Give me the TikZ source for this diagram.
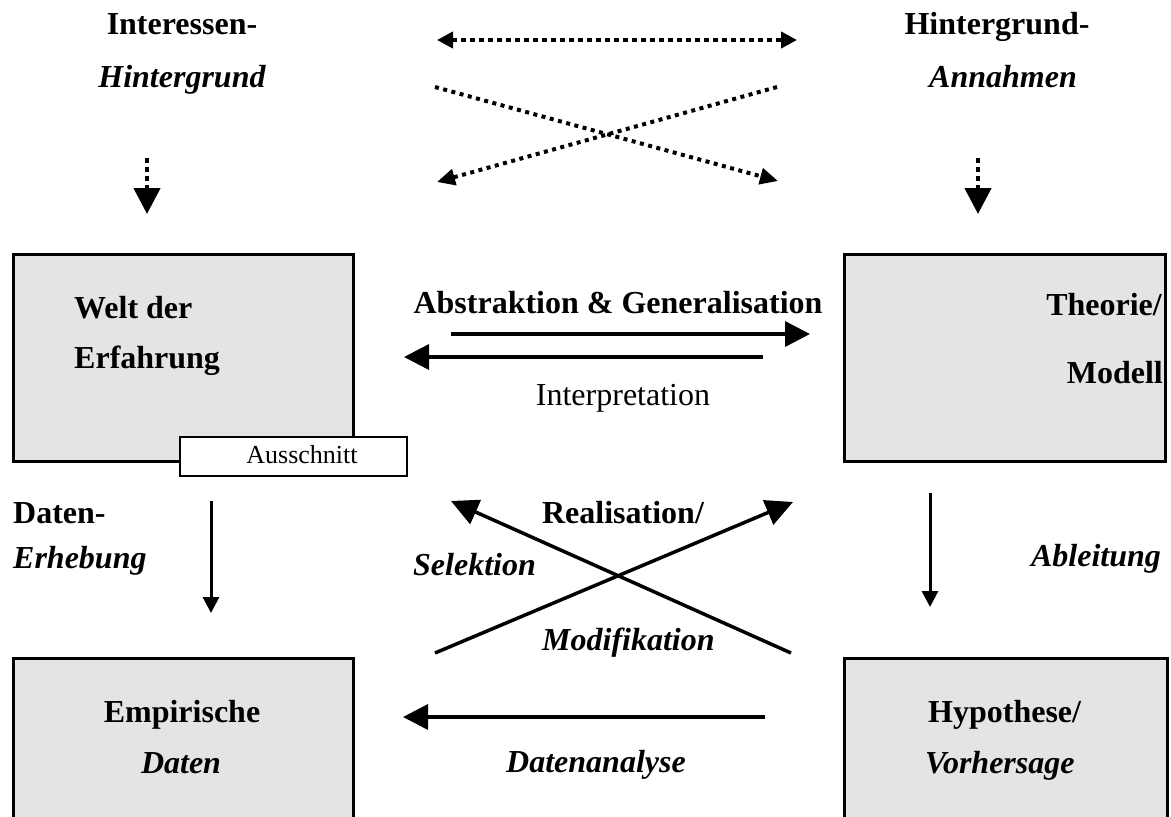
\documentclass[tikz,border=0pt]{standalone}
\usepackage{fontspec}
\setmainfont{Liberation Serif}
\usetikzlibrary{arrows.meta}
\definecolor{boxgray}{RGB}{228,228,228}
\begin{document}
\begin{tikzpicture}[x=1pt,y=-1pt,
  txt/.style={inner sep=0pt,font=\fontsize{32}{38}\selectfont},
  bfx/.style={txt,font=\fontsize{32}{38}\selectfont\bfseries},
  bix/.style={txt,font=\fontsize{32}{38}\selectfont\bfseries\itshape},
  graybox/.style={draw,line width=2.5pt,fill=boxgray,inner sep=0pt,anchor=north west},
  smallbox/.style={draw,line width=1.8pt,fill=white,inner sep=0pt,anchor=north west},
  dotarrow/.style={line width=4pt,dash pattern=on 4pt off 4.5pt,-{Triangle[length=18pt,width=16pt]}},
  dotboth/.style={line width=4.5pt,dash pattern=on 4.5pt off 4.5pt,{Triangle[length=16pt,width=16pt]}-{Triangle[length=16pt,width=16pt]}},
  dotdown/.style={line width=4.5pt,dash pattern=on 4.5pt off 4.5pt,-{Triangle[length=26pt,width=26pt]}},
  bigarrow/.style={line width=3.5pt,-{Triangle[length=25pt,width=25pt]}},
  crossarrow/.style={line width=3.5pt,-{Triangle[length=27pt,width=26pt]}},
  thinarrow/.style={line width=3pt,-{Triangle[length=16pt,width=16pt]}}]
\clip (0,0) rectangle (1171,817);
\fill[white] (0,0) rectangle (1171,817);

% boxes
\node[graybox,minimum width=340pt,minimum height=207pt] (welt) at (12,253) {};
\node[graybox,minimum width=321pt,minimum height=207pt] (theorie) at (843,253) {};
\node[graybox,minimum width=340pt,minimum height=200pt] (emp) at (12,657) {};
\node[graybox,minimum width=323pt,minimum height=200pt] (hyp) at (843,657) {};
\node[smallbox,minimum width=227pt,minimum height=39pt] (aus) at (179,436) {};
\node[txt,anchor=base,font=\fontsize{26}{30}\selectfont] (austxt) at (302,463) {Ausschnitt};

% texts in boxes
\node[bfx,anchor=base west] (welt1) at (74,318) {Welt der};
\node[bfx,anchor=base west] (welt2) at (74,368) {Erfahrung};
\node[bfx,anchor=base east] (theo1) at (1162,315) {Theorie/};
\node[bfx,anchor=base east] (theo2) at (1163,383) {Modell};
\node[bfx,anchor=base] (emp1) at (182,722) {Empirische};
\node[bix,anchor=base] (emp2) at (181,773) {Daten};
\node[bfx,anchor=base west] (hyp1) at (928,722) {Hypothese/};
\node[bix,anchor=base west] (hyp2) at (925,773) {Vorhersage};

% top texts
\node[bfx,anchor=base] (ih1) at (182,34) {Interessen-};
\node[bix,anchor=base] (ih2) at (182,87) {Hintergrund};
\node[bfx,anchor=base] (hg1) at (997,34) {Hintergrund-};
\node[bix,anchor=base] (hg2) at (1003,87) {Annahmen};

% middle texts
\node[bfx,anchor=base] (abs) at (618,313) {Abstraktion \& Generalisation};
\node[txt,anchor=base] (interp) at (623,405) {Interpretation};
\node[bfx,anchor=base west] (dat1) at (13,523) {Daten-};
\node[bix,anchor=base west] (dat2) at (13,568) {Erhebung};
\node[bix,anchor=base] (abl) at (1096,566) {Ableitung};
\node[bfx,anchor=base] (real) at (623,523) {Realisation/};
\node[bix,anchor=base west] (sel) at (413,575) {Selektion};
\node[bix,anchor=base west] (mod) at (542,650) {Modifikation};
\node[bix,anchor=base] (dana) at (596,772) {Datenanalyse};

% coordinates for connectors
\coordinate (th1) at (437,40);  \coordinate (th2) at (797,40);
\coordinate (d1a) at (435,87);  \coordinate (d1b) at (778,181);
\coordinate (d2a) at (777,87);  \coordinate (d2b) at (437,182);
\coordinate (sl1) at (147,158); \coordinate (sl2) at (147,214);
\coordinate (sr1) at (978,158); \coordinate (sr2) at (978,214);
\coordinate (ab1) at (451,334); \coordinate (ab2) at (810,334);
\coordinate (in1) at (763,357); \coordinate (in2) at (404,357);
\coordinate (vl1) at (211,501); \coordinate (vl2) at (211,613);
\coordinate (vr1) at (930,493); \coordinate (vr2) at (930,607);
\coordinate (c1a) at (435,653); \coordinate (c1b) at (793,502);
\coordinate (c2a) at (791,653); \coordinate (c2b) at (451,501);
\coordinate (da1) at (765,717); \coordinate (da2) at (403,717);

% connectors
\draw[dotboth] (th1) -- (th2);
\draw[dotarrow] (d1a) -- (d1b);
\draw[dotarrow] (d2a) -- (d2b);
\draw[dotdown] (sl1) -- (sl2);
\draw[dotdown] (sr1) -- (sr2);
\draw[bigarrow] (ab1) -- (ab2);
\draw[bigarrow] (in1) -- (in2);
\draw[thinarrow] (vl1) -- (vl2);
\draw[thinarrow] (vr1) -- (vr2);
\draw[crossarrow] (c1a) -- (c1b);
\draw[crossarrow] (c2a) -- (c2b);
\draw[bigarrow] (da1) -- (da2);
\end{tikzpicture}
\end{document}
